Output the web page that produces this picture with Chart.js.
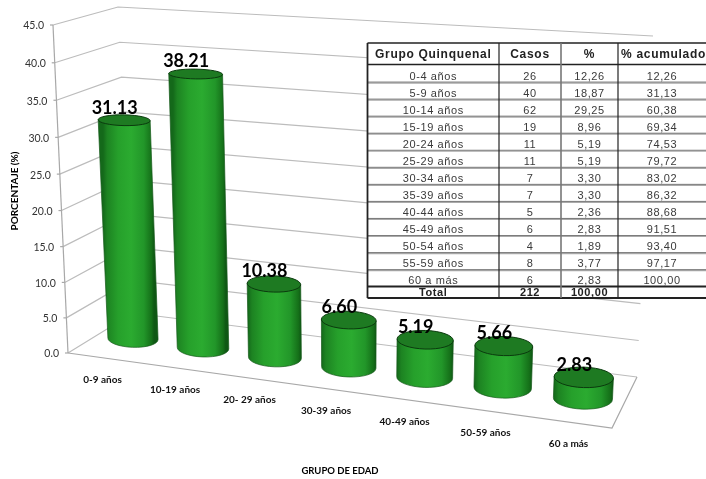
<!DOCTYPE html>
<html>
<head>
<meta charset="utf-8">
<style>
  html, body { margin: 0; padding: 0; background: #fff; }
  canvas { display: block; }
</style>
<script src="https://cdn.jsdelivr.net/npm/chart.js@4"></script>
</head>
<body>
<canvas id="chart" width="706" height="479"></canvas>
<script>
const CATEGORIES = ["0-9 años", "10-19 años", "20- 29 años", "30-39 años", "40-49 años", "50-59 años", "60 a más"];
const VALUES = [31.13, 38.21, 10.38, 6.60, 5.19, 5.66, 2.83];
const Y_MAX = 45;
const Y_STEP = 5;
const Y_TITLE = "PORCENTAJE (%)";
const X_TITLE = "GRUPO DE EDAD";

const TABLE_HEAD = ["Grupo Quinquenal", "Casos", "%", "% acumulado"];
const TABLE_GROUPS = ["0-4 años", "5-9 años", "10-14 años", "15-19 años", "20-24 años", "25-29 años", "30-34 años", "35-39 años", "40-44 años", "45-49 años", "50-54 años", "55-59 años", "60 a más"];
const TABLE_CASES = ["26", "40", "62", "19", "11", "11", "7", "7", "5", "6", "4", "8", "6"];
const TABLE_PCT = ["12,26", "18,87", "29,25", "8,96", "5,19", "5,19", "3,30", "3,30", "2,36", "2,83", "1,89", "3,77", "2,83"];
const TABLE_CUM = ["12,26", "31,13", "60,38", "69,34", "74,53", "79,72", "83,02", "86,32", "88,68", "91,51", "93,40", "97,17", "100,00"];
const TABLE_TOTAL = ["Total", "212", "100,00", ""];

// corners of the 3d box, [x, y] on the page
const FRONT_LEFT = [[68, 353], [53, 25]];
const FRONT_RIGHT = [[612, 428], [629, 63]];
const BACK_LEFT = [[133, 313], [118, 7]];
const BACK_RIGHT = [[637, 377], [653, 36]];
const BAR_DEPTH = 0.47;
const BAR_DEPTH_HALF = 0.21;

const lerp = (a, b, t) => [a[0] + (b[0] - a[0]) * t, a[1] + (b[1] - a[1]) * t];
const warp = (t, k) => t / (1 + k * (1 - t));

// u, v, d all 0..1: along the categories, up the value axis, into the box
function project(u, v, d) {
  const uu = warp(u, 0.1);
  const vv = warp(v, 0.042);
  const front = lerp(
    lerp(FRONT_LEFT[0], FRONT_RIGHT[0], uu),
    lerp(FRONT_LEFT[1], FRONT_RIGHT[1], uu), vv);
  const back = lerp(
    lerp(BACK_LEFT[0], BACK_RIGHT[0], uu),
    lerp(BACK_LEFT[1], BACK_RIGHT[1], uu), vv);
  return lerp(front, back, d);
}

function normX(chart, px) {
  const s = chart.scales.x;
  return (px - s.left) / (s.right - s.left);
}

function normY(chart, value) {
  const s = chart.scales.y;
  return (s.bottom - s.getPixelForValue(value)) / (s.bottom - s.top);
}

function line(ctx, pts) {
  ctx.beginPath();
  ctx.moveTo(pts[0][0], pts[0][1]);
  pts.slice(1).forEach((p) => ctx.lineTo(p[0], p[1]));
  ctx.stroke();
}

function ellipseAt(u0, u1, v) {
  const l = project(u0, v, BAR_DEPTH);
  const r = project(u1, v, BAR_DEPTH);
  const um = (u0 + u1) / 2;
  const near = project(um, v, BAR_DEPTH - BAR_DEPTH_HALF);
  const far = project(um, v, BAR_DEPTH + BAR_DEPTH_HALF);
  const cx = (l[0] + r[0]) / 2;
  const cy = (l[1] + r[1]) / 2;
  const rx = Math.hypot(r[0] - l[0], r[1] - l[1]) / 2;
  // the tilt in the original is much flatter than the floor line
  const rot = Math.atan2(r[1] - l[1], r[0] - l[0]) * 0.25;
  return {
    cx, cy, rx, rot,
    ry: Math.abs(near[1] - far[1]) / 2,
    left: [cx - rx * Math.cos(rot), cy - rx * Math.sin(rot)],
    right: [cx + rx * Math.cos(rot), cy + rx * Math.sin(rot)],
  };
}

function drawCylinder(chart, el, value) {
  const ctx = chart.ctx;
  const u0 = normX(chart, el.x - el.width / 2);
  const u1 = normX(chart, el.x + el.width / 2);
  const low = ellipseAt(u0, u1, 0);
  const high = ellipseAt(u0, u1, normY(chart, value));

  const gx0 = (low.left[0] + high.left[0]) / 2;
  const gx1 = (low.right[0] + high.right[0]) / 2;
  const grad = ctx.createLinearGradient(gx0, 0, gx1, 0);
  grad.addColorStop(0, "#14691a");
  grad.addColorStop(0.08, "#1d8322");
  grad.addColorStop(0.3, "#26a02b");
  grad.addColorStop(0.55, "#2bab30");
  grad.addColorStop(0.8, "#229629");
  grad.addColorStop(0.95, "#157019");
  grad.addColorStop(1, "#0f5814");

  ctx.save();
  ctx.beginPath();
  ctx.moveTo(high.left[0], high.left[1]);
  ctx.lineTo(low.left[0], low.left[1]);
  ctx.ellipse(low.cx, low.cy, low.rx, low.ry, low.rot, Math.PI, 0, true);
  ctx.lineTo(high.right[0], high.right[1]);
  ctx.closePath();
  ctx.fillStyle = grad;
  ctx.fill();
  ctx.strokeStyle = "#15591a";
  ctx.lineWidth = 0.7;
  ctx.stroke();

  ctx.beginPath();
  ctx.ellipse(high.cx, high.cy, high.rx, high.ry, high.rot, 0, Math.PI * 2);
  ctx.fillStyle = "#1e7a22";
  ctx.fill();
  ctx.strokeStyle = "#0b3a0e";
  ctx.lineWidth = 1;
  ctx.stroke();

  ctx.fillStyle = "#000";
  ctx.font = "bold 18px Lato";
  ctx.textAlign = "center";
  ctx.textBaseline = "middle";
  ctx.fillText(value.toFixed(2), high.cx - 9.5, high.cy - 12.5);
  ctx.restore();
}

class CylinderController extends Chart.BarController {
  draw() {
    const data = this.getDataset().data;
    this.getMeta().data.forEach((el, i) => drawCylinder(this.chart, el, data[i]));
  }
}
CylinderController.id = "cylinder";
CylinderController.defaults = Chart.BarController.defaults;
CylinderController.overrides = Chart.BarController.overrides;
Chart.register(CylinderController);

const box3d = {
  id: "box3d",
  beforeDatasetsDraw(chart) {
    const ctx = chart.ctx;
    const yScale = chart.scales.y;
    const xScale = chart.scales.x;
    ctx.save();

    // gridlines on the side wall and the back wall
    ctx.strokeStyle = "#bcbcbc";
    ctx.lineWidth = 1.2;
    yScale.ticks.forEach((tick) => {
      const v = normY(chart, tick.value);
      line(ctx, [project(0, v, 0), project(0, v, 1), project(1, v, 1)]);
    });

    // floor and value axis
    ctx.strokeStyle = "#a8a8a8";
    line(ctx, [project(0, 0, 0), project(1, 0, 0), project(1, 0, 1)]);
    line(ctx, [project(0, 0, 0), project(0, 1, 0)]);

    // value ticks
    ctx.fillStyle = "#333";
    ctx.font = "10.5px Lato";
    ctx.textAlign = "right";
    ctx.textBaseline = "middle";
    yScale.ticks.forEach((tick) => {
      const p = project(0, normY(chart, tick.value), 0);
      line(ctx, [[p[0] - 3, p[1]], p]);
      ctx.fillText(tick.value.toFixed(1), p[0] - 9, p[1] + 1);
    });

    // category labels
    ctx.fillStyle = "#111";
    ctx.font = "bold 10px Lato";
    ctx.textAlign = "center";
    CATEGORIES.forEach((label, i) => {
      const p = project(normX(chart, xScale.getPixelForValue(i)), 0, 0);
      ctx.fillText(label, p[0] - 1, p[1] + 22);
    });

    // axis titles
    ctx.fillStyle = "#000";
    ctx.font = "bold 9.5px Lato";
    ctx.fillText(X_TITLE, 340, 471);
    ctx.font = "bold 10px Lato";
    ctx.translate(15, 191);
    ctx.rotate(-Math.PI / 2);
    ctx.fillText(Y_TITLE, 0, 0);
    ctx.restore();
  },
  afterDatasetsDraw(chart) {
    drawTable(chart.ctx);
  },
};

function drawTable(ctx) {
  const colX = [367.5, 499, 561, 618, 706];
  const top = 43;
  const headBottom = 64.5;
  const rowH = 17.05;
  const rowsTop = 65;
  const totalTop = 286.5;
  const bottom = 298;
  const cols = [TABLE_GROUPS, TABLE_CASES, TABLE_PCT, TABLE_CUM];

  ctx.save();
  ctx.fillStyle = "#fff";
  ctx.fillRect(colX[0], top, 706 - colX[0], bottom - top);

  ctx.textAlign = "center";
  ctx.textBaseline = "middle";
  ctx.fillStyle = "#222";
  ctx.font = "bold 12px 'Liberation Sans'";
  ctx.letterSpacing = "0.7px";
  TABLE_HEAD.forEach((t, c) => {
    ctx.fillText(t, (colX[c] + colX[c + 1]) / 2 + (c === 3 ? 1.5 : 0), 54.5);
  });

  ctx.fillStyle = "#3a3a3a";
  ctx.font = "11px 'Liberation Sans'";
  ctx.letterSpacing = "0.6px";
  cols.forEach((col, c) => {
    col.forEach((t, r) => {
      ctx.fillText(t, (colX[c] + colX[c + 1]) / 2, 76.8 + r * rowH);
    });
  });

  ctx.fillStyle = "#222";
  ctx.font = "bold 11px 'Liberation Sans'";
  ctx.letterSpacing = "0.6px";
  TABLE_TOTAL.forEach((t, c) => ctx.fillText(t, (colX[c] + colX[c + 1]) / 2, 292.5));
  ctx.letterSpacing = "0px";

  // row rules, dark with a grey shadow under them
  TABLE_GROUPS.slice(0, -1).forEach((g, r) => {
    const y = rowsTop + (r + 1) * rowH;
    ctx.strokeStyle = "#aaa";
    ctx.lineWidth = 1.2;
    line(ctx, [[colX[0], y + 1], [706, y + 1]]);
    ctx.strokeStyle = "#444";
    ctx.lineWidth = 0.7;
    line(ctx, [[colX[0], y], [706, y]]);
  });

  ctx.strokeStyle = "#222";
  ctx.lineWidth = 1.3;
  line(ctx, [[colX[0], top], [706, top]]);
  line(ctx, [[colX[0], headBottom], [706, headBottom]]);
  ctx.lineWidth = 1.8;
  line(ctx, [[colX[0], totalTop], [706, totalTop]]);
  line(ctx, [[colX[0], bottom], [706, bottom]]);
  line(ctx, [[colX[0], top], [colX[0], bottom]]);
  ctx.lineWidth = 1.2;
  line(ctx, [[colX[1], top], [colX[1], bottom]]);
  line(ctx, [[colX[3], top], [colX[3], bottom]]);
  ctx.strokeStyle = "#777";
  ctx.lineWidth = 1.6;
  line(ctx, [[colX[2], top], [colX[2], bottom]]);
  ctx.restore();
}

new Chart(document.getElementById("chart"), {
  type: "cylinder",
  data: {
    labels: CATEGORIES,
    datasets: [{ data: VALUES, barPercentage: 0.72, categoryPercentage: 1 }],
  },
  options: {
    responsive: false,
    animation: false,
    layout: { padding: 0 },
    plugins: { legend: { display: false }, tooltip: { enabled: false } },
    scales: {
      x: { type: "category", display: false },
      y: { type: "linear", display: false, min: 0, max: Y_MAX, ticks: { stepSize: Y_STEP } },
    },
  },
  plugins: [box3d],
});
</script>
</body>
</html>
